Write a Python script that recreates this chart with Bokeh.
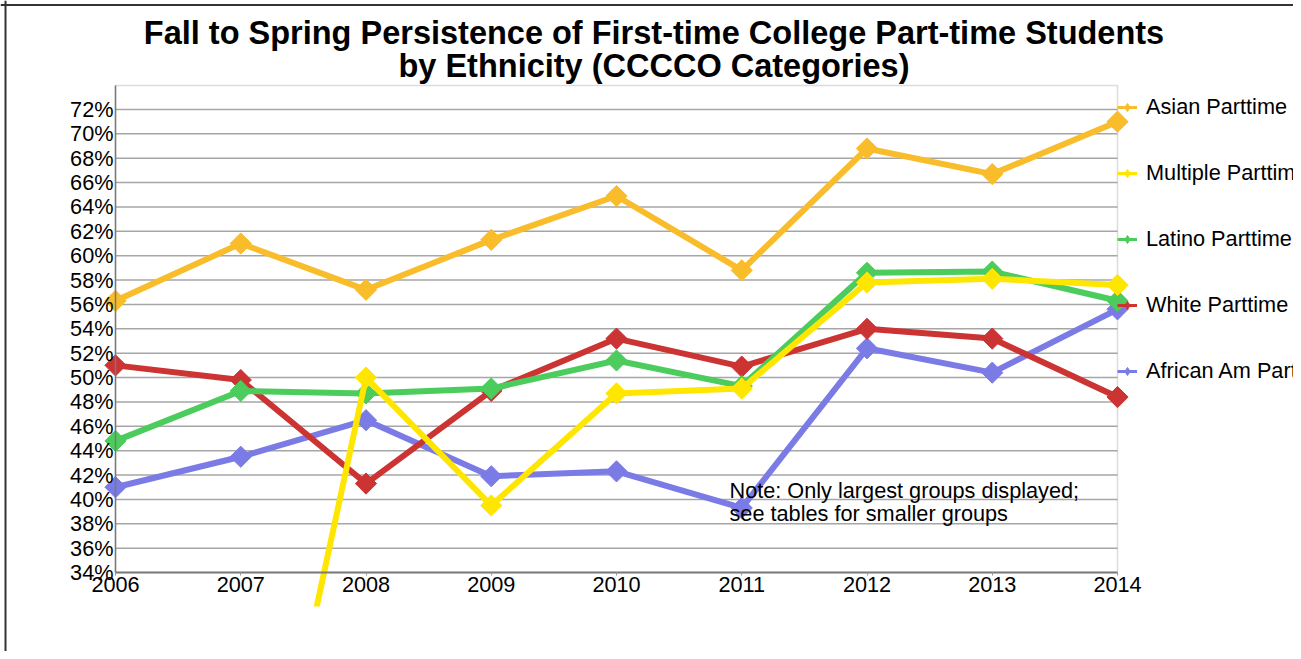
import math
from bokeh.plotting import figure
from bokeh.models import (Range1d, FixedTicker, PrintfTickFormatter, Legend, LegendItem,
                          BoxAnnotation, Label, Span, ColumnDataSource)
from bokeh.embed import file_html
from bokeh.resources import INLINE

nan = float("nan")

years = [2006, 2007, 2008, 2009, 2010, 2011, 2012, 2013, 2014]
asian = [56.3, 61.0, 57.2, 61.3, 64.9, 58.8, 68.8, 66.7, 71.0]
multiple = [nan, 2.2, 50.0, 39.5, 48.7, 49.1, 57.8, 58.1, 57.6]
latino = [44.8, 48.9, 48.7, 49.1, 51.4, 49.3, 58.6, 58.7, 56.3]
white = [51.0, 49.8, 41.3, 48.9, 53.2, 50.9, 54.0, 53.2, 48.4]
african = [41.0, 43.5, 46.5, 41.9, 42.3, 39.3, 52.4, 50.4, 55.6]
y_ticks = list(range(34, 73, 2))

series_names = ["Asian Parttime", "Multiple Parttime", "Latino Parttime",
                "White Parttime", "African Am Parttime"]
series_values = [asian, multiple, latino, white, african]
series_colors = ["#f9bc2b", "#ffe600", "#4ccc5c", "#cc3333", "#7b7be6"]

title_lines = ["Fall to Spring Persistence of First-time College Part-time Students",
               "by Ethnicity (CCCCO Categories)"]
note_lines = ["Note: Only largest groups displayed;", "see tables for smaller groups"]

FONT = "Liberation Sans"
FS = "21.7px"

W, H = 1293, 651
# scale: 125.25 px per year, 12.184 px per percent
px_year = 125.25
px_pct = 463 / 38
x_start = years[0] - 115 / px_year
x_end = x_start + W / px_year
y_end = y_ticks[-1] + 109 / px_pct
y_start = y_ticks[0] - (H - 572) / px_pct
box_top = y_ticks[-1] + 24 / px_pct
clip_level = y_ticks[0] - 34 / px_pct

p = figure(width=W, height=H, x_range=Range1d(x_start, x_end),
           y_range=Range1d(y_start, y_end), output_backend="svg",
           toolbar_location=None, title=None,
           min_border_left=0, min_border_right=0, min_border_top=0, min_border_bottom=0)
p.outline_line_color = None
p.background_fill_color = "white"
p.border_fill_color = "white"
p.xgrid.visible = False
p.ygrid.visible = False

# grid lines
grid_vals = y_ticks[1:]
p.segment(x0=[years[0]] * len(grid_vals), x1=[years[-1]] * len(grid_vals),
          y0=grid_vals, y1=grid_vals, line_color="#a6a6a6", line_width=1.5)

p.add_layout(BoxAnnotation(left=years[0], right=years[-1], bottom=y_ticks[0], top=box_top,
                           fill_color=None, fill_alpha=0, line_color="#8c8c8c", line_width=1.5,
                           level="underlay"))

# axes
xa = p.xaxis[0]
xa.fixed_location = y_ticks[0]
xa.bounds = (years[0], years[-1])
xa.ticker = FixedTicker(ticks=years)
xa.axis_line_color = "#7a7a7a"
xa.axis_line_width = 2
xa.major_tick_out = 3
xa.major_tick_in = 0
xa.major_tick_line_color = "#9a9a9a"
xa.minor_tick_line_color = None
xa.major_label_standoff = 1
xa.major_label_text_font = FONT
xa.major_label_text_font_size = FS
xa.major_label_text_color = "black"

ya = p.yaxis[0]
ya.fixed_location = years[0]
ya.bounds = (y_ticks[0], box_top)
ya.ticker = FixedTicker(ticks=y_ticks)
ya.formatter = PrintfTickFormatter(format="%d%%")
ya.axis_line_color = "#7a7a7a"
ya.axis_line_width = 1.5
ya.major_tick_out = 0
ya.major_tick_in = 0
ya.minor_tick_line_color = None
ya.major_label_standoff = 2
ya.major_label_text_font = FONT
ya.major_label_text_font_size = FS
ya.major_label_text_color = "black"

legend_items = {}
for name, vals, color in reversed(list(zip(series_names, series_values, series_colors))):
    src = ColumnDataSource(dict(x=years, y=vals))
    p.line("x", "y", source=src, line_color=color, line_width=6)
    p.scatter("x", "y", source=src, marker="square", angle=math.pi / 4, size=15,
              fill_color=color, line_color=color)
    lg_line = p.line("x", "y", source=src, line_color=color, line_width=3, visible=False)
    lg_mark = p.scatter("x", "y", source=src, marker="diamond", size=13,
                        fill_color=color, line_color=color, visible=False)
    legend_items[name] = LegendItem(label=name, renderers=[lg_line, lg_mark])

# the chart area ends a little below the x axis: lines are cut there
p.add_layout(BoxAnnotation(top=clip_level, fill_color="white", fill_alpha=1,
                           line_color=None))

legend = Legend(items=[legend_items[n] for n in series_names], location=(1117, 267.5),
                orientation="vertical", padding=0, margin=0, spacing=40,
                glyph_width=20, glyph_height=26, label_height=26, label_standoff=9,
                label_text_font=FONT, label_text_font_size=FS,
                label_text_color="black", border_line_color=None,
                background_fill_alpha=0)
p.add_layout(legend, "center")

# outer chart border (top and left)
p.add_layout(Span(location=H - 4.5, location_units="screen", dimension="width",
                  line_color="#333333", line_width=2))
p.add_layout(Span(location=5, location_units="screen", dimension="height",
                  line_color="#333333", line_width=2))

# title
p.add_layout(Label(x=653.5, y=H - 32, x_units="screen", y_units="screen", text=title_lines[0],
                   text_align="center", text_baseline="alphabetic", text_font=FONT,
                   text_font_size="32.5px", text_font_style="bold", text_color="black"))
p.add_layout(Label(x=653.5, y=H - 65, x_units="screen", y_units="screen", text=title_lines[1],
                   text_align="center", text_baseline="alphabetic", text_font=FONT,
                   text_font_size="32.5px", text_font_style="bold", text_color="black"))

# note
p.add_layout(Label(x=729, y=H - 490, x_units="screen", y_units="screen", text=note_lines[0],
                   text_align="left", text_baseline="alphabetic", text_font=FONT,
                   text_font_size=FS, text_color="black"))
p.add_layout(Label(x=729, y=H - 513, x_units="screen", y_units="screen", text=note_lines[1],
                   text_align="left", text_baseline="alphabetic", text_font=FONT,
                   text_font_size=FS, text_color="black"))

open("out.html", "w").write(file_html(p, INLINE))
